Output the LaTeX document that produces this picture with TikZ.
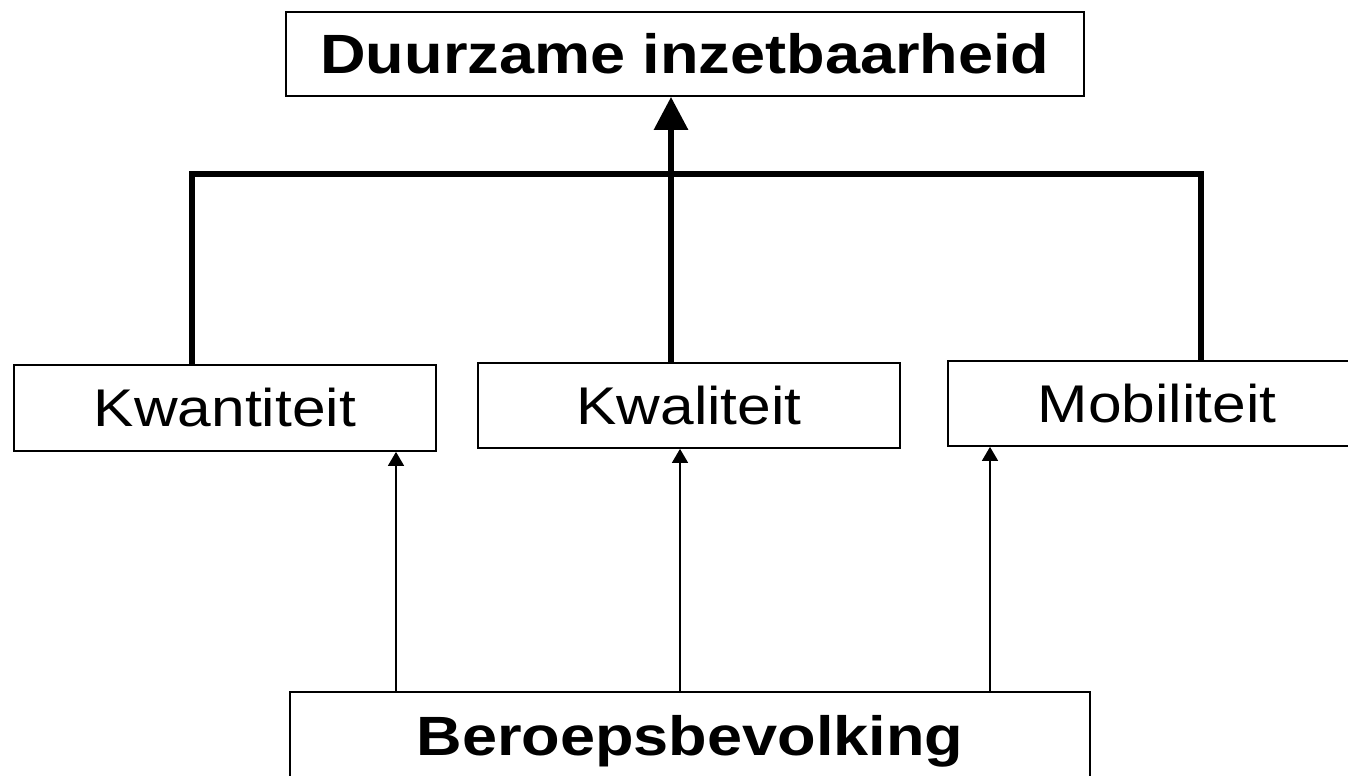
\documentclass[tikz,border=0pt]{standalone}
\usepackage{fontspec}
\setmainfont{Liberation Sans}[FakeStretch=1.14]
\usetikzlibrary{arrows.meta}

\tikzset{
  box/.style     = {draw, line width=1pt, inner sep=0pt, minimum height=1.72cm},
  bigtext/.style = {font=\fontsize{31.5}{36}\selectfont\bfseries},
  midtext/.style = {font=\fontsize{30.2}{34}\selectfont},
  bar/.style     = {line width=3.4pt},
  feed/.style    = {line width=0.85pt, -{Triangle[width=0.32cm, length=0.28cm]}}
}

\begin{document}
\begin{tikzpicture}[x=0.02cm, y=-0.02cm]
  \useasboundingbox (0,0) rectangle (1348,775);
  \clip (0,0) rectangle (1348,775);

  \node[box, bigtext, minimum width=15.96cm, minimum height=1.68cm] (top) at (685,54) {Duurzame inzetbaarheid};

  \node[box, midtext, minimum width=8.44cm] (kwant) at (225,408)   {Kwantiteit};
  \node[box, midtext, minimum width=8.44cm, minimum height=1.7cm] (kwal) at (689,405.5) {Kwaliteit};
  \node[box, midtext, minimum width=8.36cm, minimum height=1.7cm] (mob) at (1157,403.5) {Mobiliteit};

  \node[box, bigtext, minimum width=16cm, minimum height=1.96cm] (bottom) at (690,741) {Beroepsbevolking};

  % bracket above the three aspects
  \coordinate (bl) at (192,174);
  \coordinate (br) at (1201,174);
  \coordinate (bm) at (671,174);
  \draw[bar] (kwant.north -| bl) -- (bl) -- (br) -- (mob.north -| br);
  \draw[bar, -{Triangle[width=0.66cm, length=0.66cm]}] (kwal.north -| bm) -- (top.south -| bm);

  % from the working population up
  \coordinate (f1) at (396,0);
  \coordinate (f2) at (680,0);
  \coordinate (f3) at (990,0);
  \path[feed]
    (bottom.north -| f1) edge (kwant.south -| f1)
    (bottom.north -| f2) edge (kwal.south -| f2)
    (bottom.north -| f3) edge (mob.south -| f3)
  ;
\end{tikzpicture}
\end{document}
